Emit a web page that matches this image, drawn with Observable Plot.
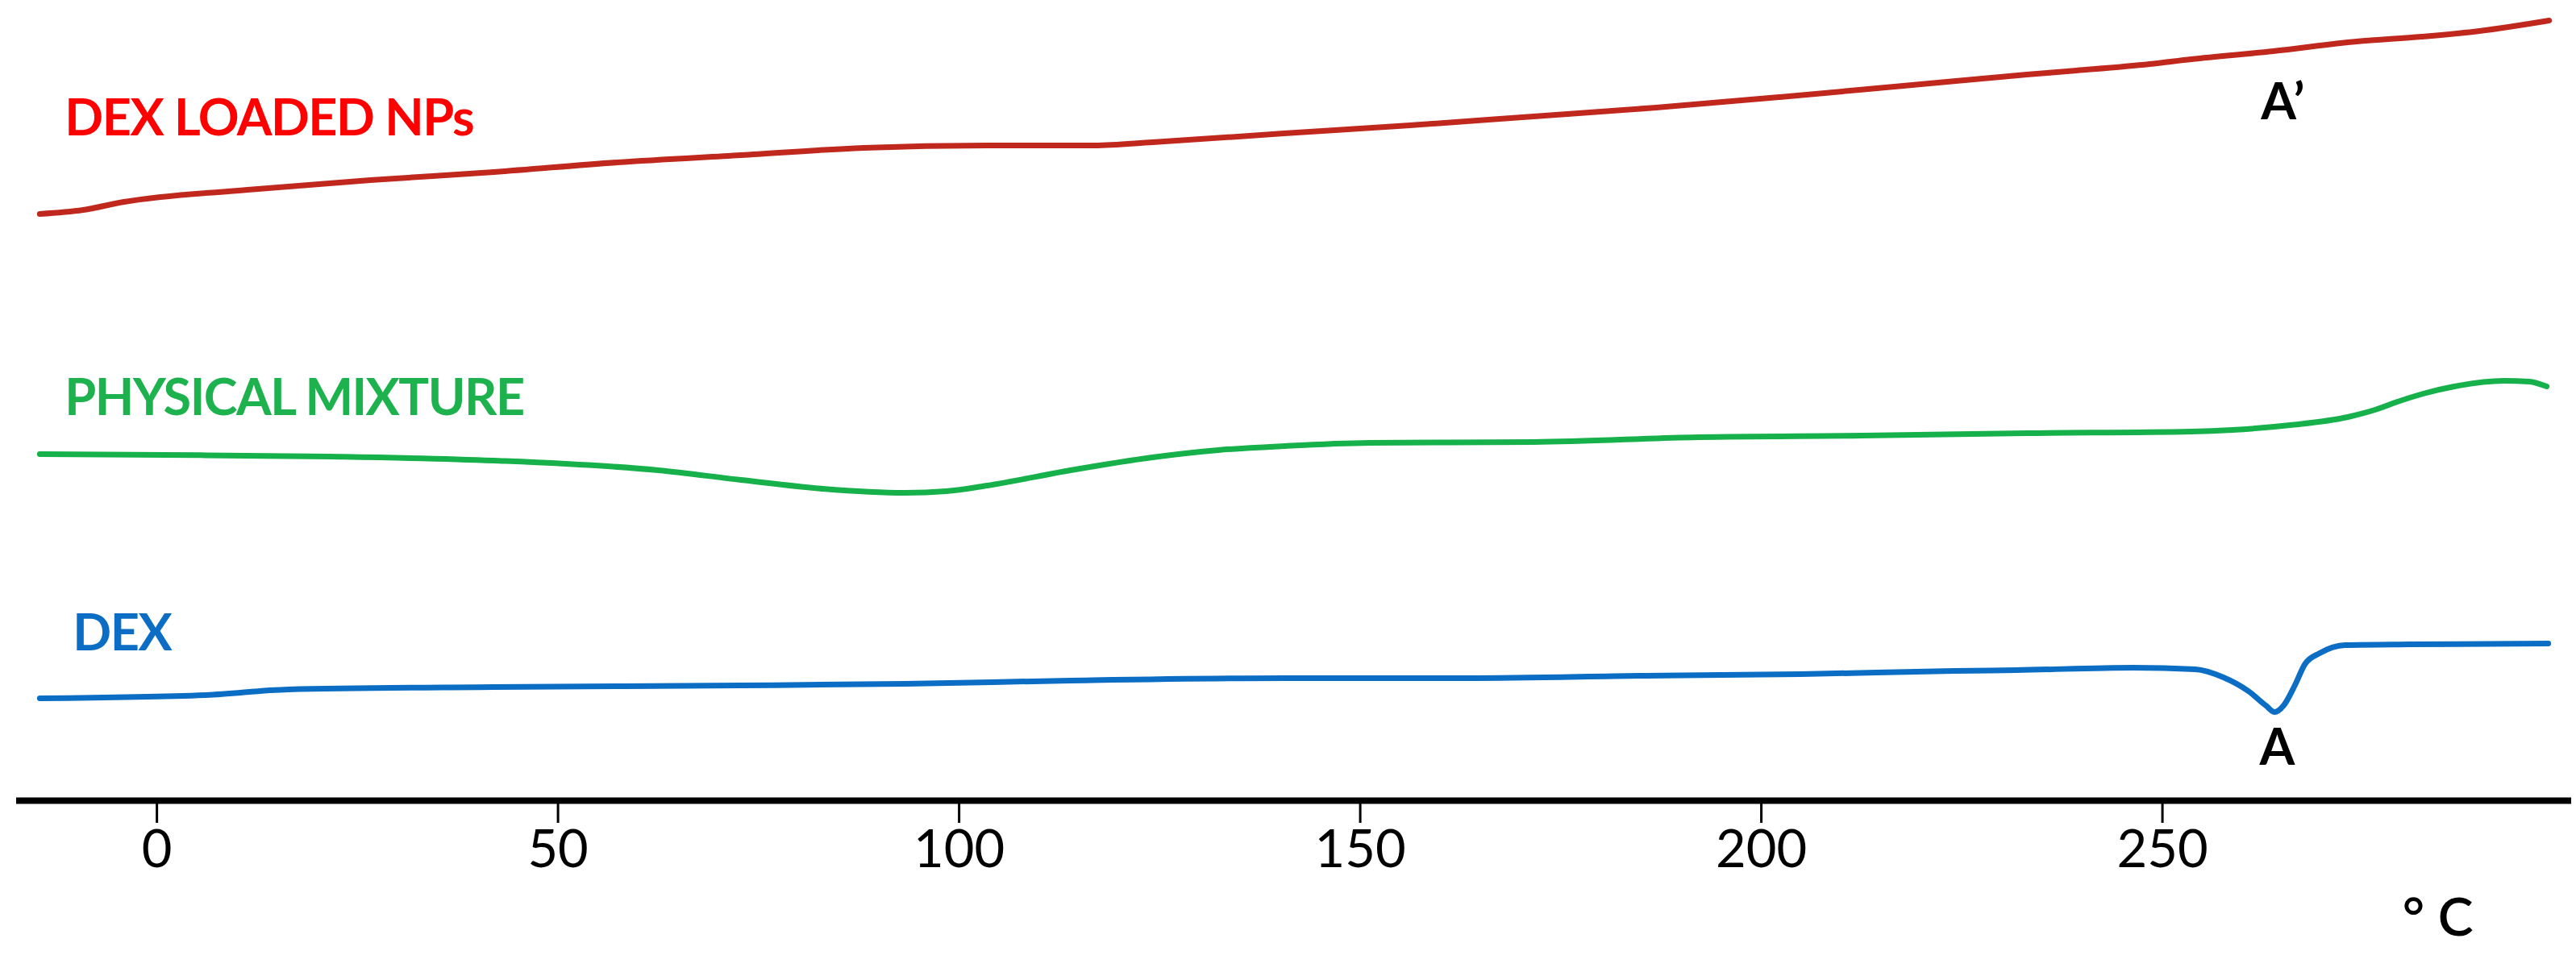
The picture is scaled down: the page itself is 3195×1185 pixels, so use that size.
<!DOCTYPE html>
<html>
<head>
<meta charset="utf-8">
<script src="https://cdn.jsdelivr.net/npm/d3@7"></script>
<script src="https://cdn.jsdelivr.net/npm/@observablehq/plot@0.6"></script>
<style>
  html, body { margin: 0; padding: 0; background: #fff; }
  #chart svg { display: block; }
</style>
</head>
<body>
<div id="chart"></div>
<script>
// Temperature (°C) and heat-flow (arbitrary units)
const tempNPs = [-14.6, -9.2, -4.1, 11.3, 26.6, 42.0, 57.4, 72.8, 88.1, 103.5, 116.9, 124.1, 140.5, 156.2, 171.6, 186.9, 202.3, 217.7, 233.1, 239.3, 248.4, 253.6, 263.8, 274.2, 282.3, 289.5, 298.2];
const flowNPs = [72.8, 73.3, 74.3, 75.8, 77.0, 78.0, 79.2, 80.1, 81.0, 81.3, 81.3, 81.7, 82.8, 83.8, 84.9, 86.0, 87.3, 88.7, 90.1, 90.6, 91.4, 92.0, 93.0, 94.2, 94.8, 95.5, 96.8];

const tempMix = [-14.6, 1.0, 21.5, 42.0, 62.5, 72.8, 83.0, 93.3, 98.4, 103.5, 113.9, 124.1, 132.3, 140.5, 151.1, 171.6, 192.1, 212.6, 233.1, 253.6, 258.7, 265.9, 273.1, 276.5, 279.3, 282.5, 286.4, 292.6, 295.7, 297.9];
const flowMix = [43.0, 42.9, 42.7, 42.2, 41.0, 39.8, 38.7, 38.2, 38.4, 39.1, 41.0, 42.6, 43.5, 44.0, 44.4, 44.5, 45.1, 45.3, 45.6, 45.8, 46.0, 46.6, 47.6, 48.5, 49.5, 50.5, 51.4, 52.1, 52.0, 51.4];

const tempDex = [-14.6, 6.1, 16.4, 42.0, 72.8, 93.3, 113.9, 140.5, 163.2, 185.6, 204.9, 224.1, 231.8, 246.4, 254.1, 257.6, 260.7, 262.9, 264.0, 265.1, 266.5, 267.8, 269.6, 272.8, 280.8, 298.1];
const flowDex = [12.7, 13.1, 13.8, 14.1, 14.3, 14.5, 14.9, 15.2, 15.2, 15.5, 15.7, 16.1, 16.2, 16.5, 16.3, 15.3, 13.6, 11.8, 11.0, 11.8, 14.3, 17.0, 18.3, 19.3, 19.4, 19.5];

const seriesNames = ["DEX LOADED NPs", "PHYSICAL MIXTURE", "DEX"];
const xTicks = [0, 50, 100, 150, 200, 250];
const unitLabel = "° C";
const peakLabel = "A";
const peakLabelNPs = "A’";
const peakTempNPs = 263.8;

// styles
const lineColors = ["#c0281e", "#17b14b", "#0b6dc3"];
const labelColors = ["#ff0000", "#1db24d", "#0b6dc3"];
const labelOffsets = [[31, -98], [31, -49], [41, -60]];

const toRows = (ts, vs, name) => ts.map((t, i) => ({T: t, v: vs[i], name}));
const series = [
  toRows(tempNPs, flowNPs, seriesNames[0]),
  toRows(tempMix, flowMix, seriesNames[1]),
  toRows(tempDex, flowDex, seriesNames[2])
];

const font = "Lato, 'Open Sans', sans-serif";
const marks = [];

series.forEach((rows, i) => {
  marks.push(Plot.line(rows, {x: "T", y: "v", stroke: lineColors[i], strokeWidth: 7, curve: "monotone-x"}));
  marks.push(Plot.text([rows[0]], {
    x: "T", y: "v", text: () => seriesNames[i],
    dx: labelOffsets[i][0], dy: labelOffsets[i][1],
    textAnchor: "start", lineAnchor: "bottom",
    fill: labelColors[i], fontSize: 63, fontWeight: "bold", fontFamily: font
  }));
});

// peak A: minimum of DEX curve
const dexMin = d3.least(series[2], d => d.v);
marks.push(Plot.text([dexMin], {
  x: "T", y: "v", text: () => peakLabel, dx: 3, dy: 65,
  textAnchor: "middle", lineAnchor: "bottom",
  fill: "#000", fontSize: 63, fontWeight: "bold", fontFamily: font
}));
// peak A' on NPs curve
const npsAt = d3.least(series[0], d => Math.abs(d.T - peakTempNPs));
marks.push(Plot.text([npsAt], {
  x: "T", y: "v", text: () => peakLabelNPs, dx: -15, dy: 84,
  textAnchor: "start", lineAnchor: "bottom",
  fill: "#000", fontSize: 63, fontWeight: "bold", fontFamily: font
}));

// x axis
marks.push(Plot.axisX({ticks: xTicks, tickSize: 28, tickPadding: 8, strokeWidth: 3, label: null, fontSize: 65, fontFamily: font, fill: "#000"}));
marks.push(Plot.ruleY([0], {stroke: "#000", strokeWidth: 8}));
marks.push(Plot.text([unitLabel], {
  frameAnchor: "bottom-right", text: d => d, dx: -122, dy: 167,
  textAnchor: "end", lineAnchor: "bottom",
  fill: "#000", fontSize: 66, fontWeight: 600, fontFamily: font
}));

const chart = Plot.plot({
  width: 3195,
  height: 1185,
  marginLeft: 20,
  marginRight: 6,
  marginTop: 0,
  marginBottom: 192,
  x: {domain: [-17.5, 301]},
  y: {domain: [0, 99.3], axis: null},
  style: {fontFamily: font, fontSize: "65px", background: "#fff", color: "#000"},
  marks
});
// tighten bold series labels to approximate the narrower original typeface
d3.select(chart).selectAll("text").filter(function() {
  return seriesNames.includes(this.textContent);
}).style("letter-spacing", "-1.5px");
document.getElementById("chart").appendChild(chart);
</script>
</body>
</html>
